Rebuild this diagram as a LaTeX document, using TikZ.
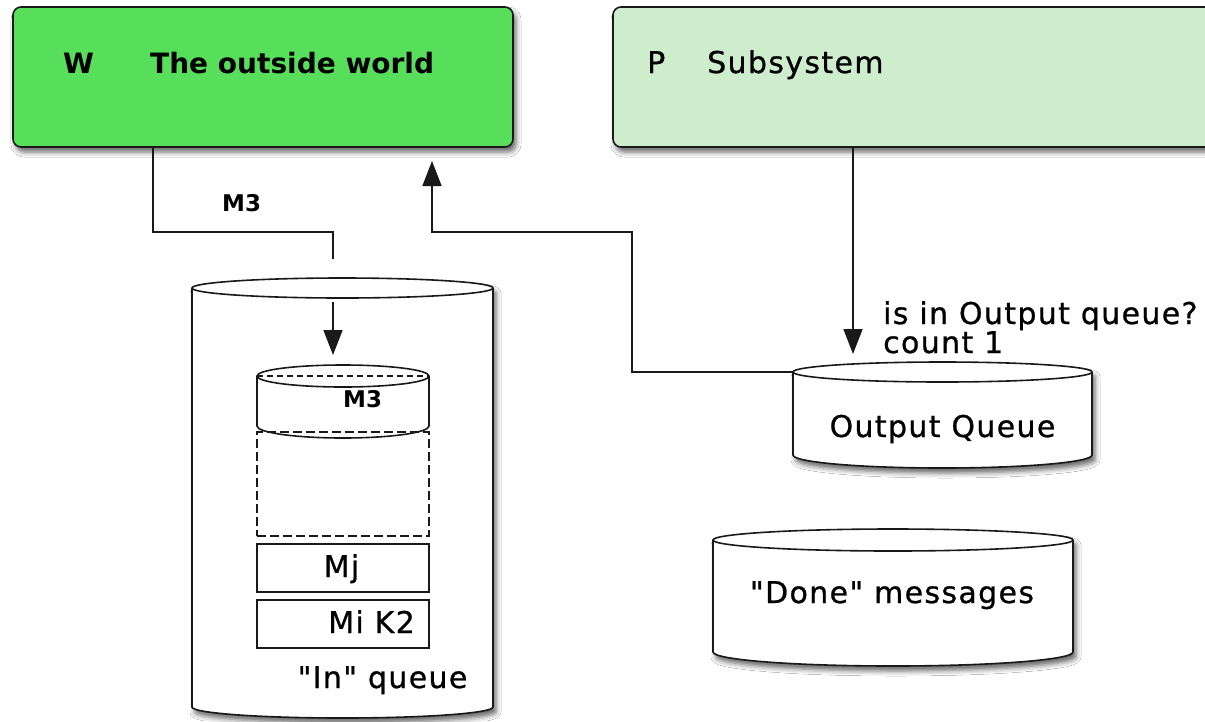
\documentclass[tikz,border=0pt]{standalone}
\usepackage{fontspec}
\setmainfont{DejaVu Sans}
\newfontfamily\regf[LetterSpace=4.5,FakeBold=0.8]{DejaVu Sans}
\usetikzlibrary{arrows.meta,shadows.blur}
\definecolor{wgreen}{RGB}{87,222,90}
\definecolor{pgreen}{RGB}{205,237,205}
\definecolor{ln}{RGB}{25,25,25}
\tikzset{
  shad/.style={blur shadow={shadow xshift=3pt, shadow yshift=-5pt, shadow blur radius=5pt, shadow opacity=60}},
  box/.style={draw=ln, line width=1.6pt, rounded corners=8pt, shad, inner sep=0pt, outer sep=0pt},
  conn/.style={draw=ln, line width=1.6pt},
  arr/.style={conn, -{Triangle[width=19pt,length=25pt]}},
  rtxt/.style={font=\regf\fontsize{30}{30}\selectfont, inner sep=0pt, text=black},
  btxt/.style={font=\bfseries\fontsize{28}{28}\selectfont, inner sep=0pt, text=black},
  mtxt/.style={font=\bfseries\fontsize{23}{23}\selectfont, inner sep=0pt, text=black},
  ghost/.style={inner sep=0pt, outer sep=0pt},
  cylbody/.style={draw=ln, line width=1.6pt, fill=white, shad},
  cylplain/.style={draw=ln, line width=1.6pt, fill=white},
  cylline/.style={draw=ln, line width=1.6pt},
  msgbox/.style={draw=ln, line width=1.6pt, inner sep=0pt, outer sep=0pt},
  dashbox/.style={draw=ln, line width=1.6pt, dash pattern=on 9pt off 4pt, inner sep=0pt, outer sep=0pt},
}
% #1 style, #2 x1, #3 x2, #4 y of top rim, #5 y of side end, #6 ry top, #7 ry bottom
\newcommand{\drawcyl}[7][cylbody]{%
  \pgfmathsetmacro{\cyX}{(#2+#3)/2}%
  \pgfmathsetmacro{\cyK}{0.5523*(#3-#2)/2}%
  \pgfmathsetmacro{\cyT}{0.5523*#6}%
  \pgfmathsetmacro{\cyB}{0.5523*#7}%
  \path[#1] (#2,#4) -- (#2,#5)
     .. controls (#2,#5+\cyB) and (\cyX-\cyK,#5+#7) .. (\cyX,#5+#7)
     .. controls (\cyX+\cyK,#5+#7) and (#3,#5+\cyB) .. (#3,#5)
     -- (#3,#4)
     .. controls (#3,#4-\cyT) and (\cyX+\cyK,#4-#6) .. (\cyX,#4-#6)
     .. controls (\cyX-\cyK,#4-#6) and (#2,#4-\cyT) .. (#2,#4) -- cycle;
  \draw[cylline] (#2,#4)
     .. controls (#2,#4+\cyT) and (\cyX-\cyK,#4+#6) .. (\cyX,#4+#6)
     .. controls (\cyX+\cyK,#4+#6) and (#3,#4+\cyT) .. (#3,#4);
}
\begin{document}
\begin{tikzpicture}[x=1pt,y=-1pt]
\useasboundingbox (0,0) rectangle (1205,721);
\fill[white] (0,0) rectangle (1205,721);

% top boxes
\node[box, fill=wgreen, minimum width=500pt, minimum height=140pt] (W) at (263,77) {};
\node[box, fill=pgreen, minimum width=612pt, minimum height=140pt] (P) at (919,77) {};
\node[btxt, anchor=base west] (Wl) at (63,73) {W};
\node[btxt, anchor=base west] (Wt) at (150,73) {The outside world};
\node[rtxt, anchor=base west] (Pl) at (647,73) {P};
\node[rtxt, anchor=base west] (Pt) at (707,73) {Subsystem};

% cylinders
\drawcyl{192}{493}{288}{707}{10}{11}
\node[ghost, minimum width=301pt, minimum height=429pt] (IN) at (342.5,288) {};
\drawcyl{793}{1092}{372}{455}{10}{13}
\node[ghost, minimum width=299pt, minimum height=108pt] (OQ) at (942.5,416) {};
\drawcyl{713}{1073}{540}{652}{11}{14}
\node[ghost, minimum width=360pt, minimum height=125pt] (DN) at (893,596) {};

% inner queue contents
\drawcyl[cylplain]{257}{429}{376}{426}{11}{12}
\node[ghost, minimum width=172pt, minimum height=61pt] (IC) at (343,395.5) {};
\draw[cylline, dash pattern=on 6pt off 4pt] (IC.west |- 0,376) -- (IC.east |- 0,376);
\node[dashbox, minimum width=172pt, minimum height=104pt] (slot) at (343,484) {};
\node[msgbox, minimum width=172pt, minimum height=48pt] (Mjb) at (343,568) {};
\node[msgbox, minimum width=172pt, minimum height=48pt] (Mib) at (343,624) {};

% texts
\node[mtxt, anchor=base west] (m3a) at (222,211) {M3};
\node[mtxt, anchor=base west] (m3b) at (343,407) {M3};
\node[rtxt, anchor=base] (Mj) at (341.5,577) {Mj};
\node[rtxt, anchor=base] (Mi) at (371.5,633) {Mi K2};
\node[rtxt, anchor=base] (inq) at (382.5,688) {"In" queue};
\node[rtxt, anchor=base] (oqt) at (942.5,437) {Output Queue};
\node[rtxt, anchor=base] (dnt) at (892,603) {"Done" messages};
\node[rtxt, anchor=base west] (q1) at (883,324) {is in Output queue?};
\node[rtxt, anchor=base west] (q2) at (883,353) {count 1};

% connectors
\coordinate (wx) at (153,0);
\coordinate (inTop) at (333,259);
\draw[conn] (W.south -| wx) -- ++(0,85) -| (inTop);
\coordinate (inArr) at (333,302);
\draw[arr, shorten >=10pt] (inArr) -- (inArr |- IC.north);

\coordinate (px) at (853,0);
\draw[arr, shorten >=8pt] (P.south -| px) -- (px |- OQ.north);

\coordinate (oqL) at (793,372);
\coordinate (c1) at (632,232);
\coordinate (wup) at (432,0);
\draw[arr, shorten >=14pt] (oqL) -| (c1) -| (W.south -| wup);
\end{tikzpicture}
\end{document}
